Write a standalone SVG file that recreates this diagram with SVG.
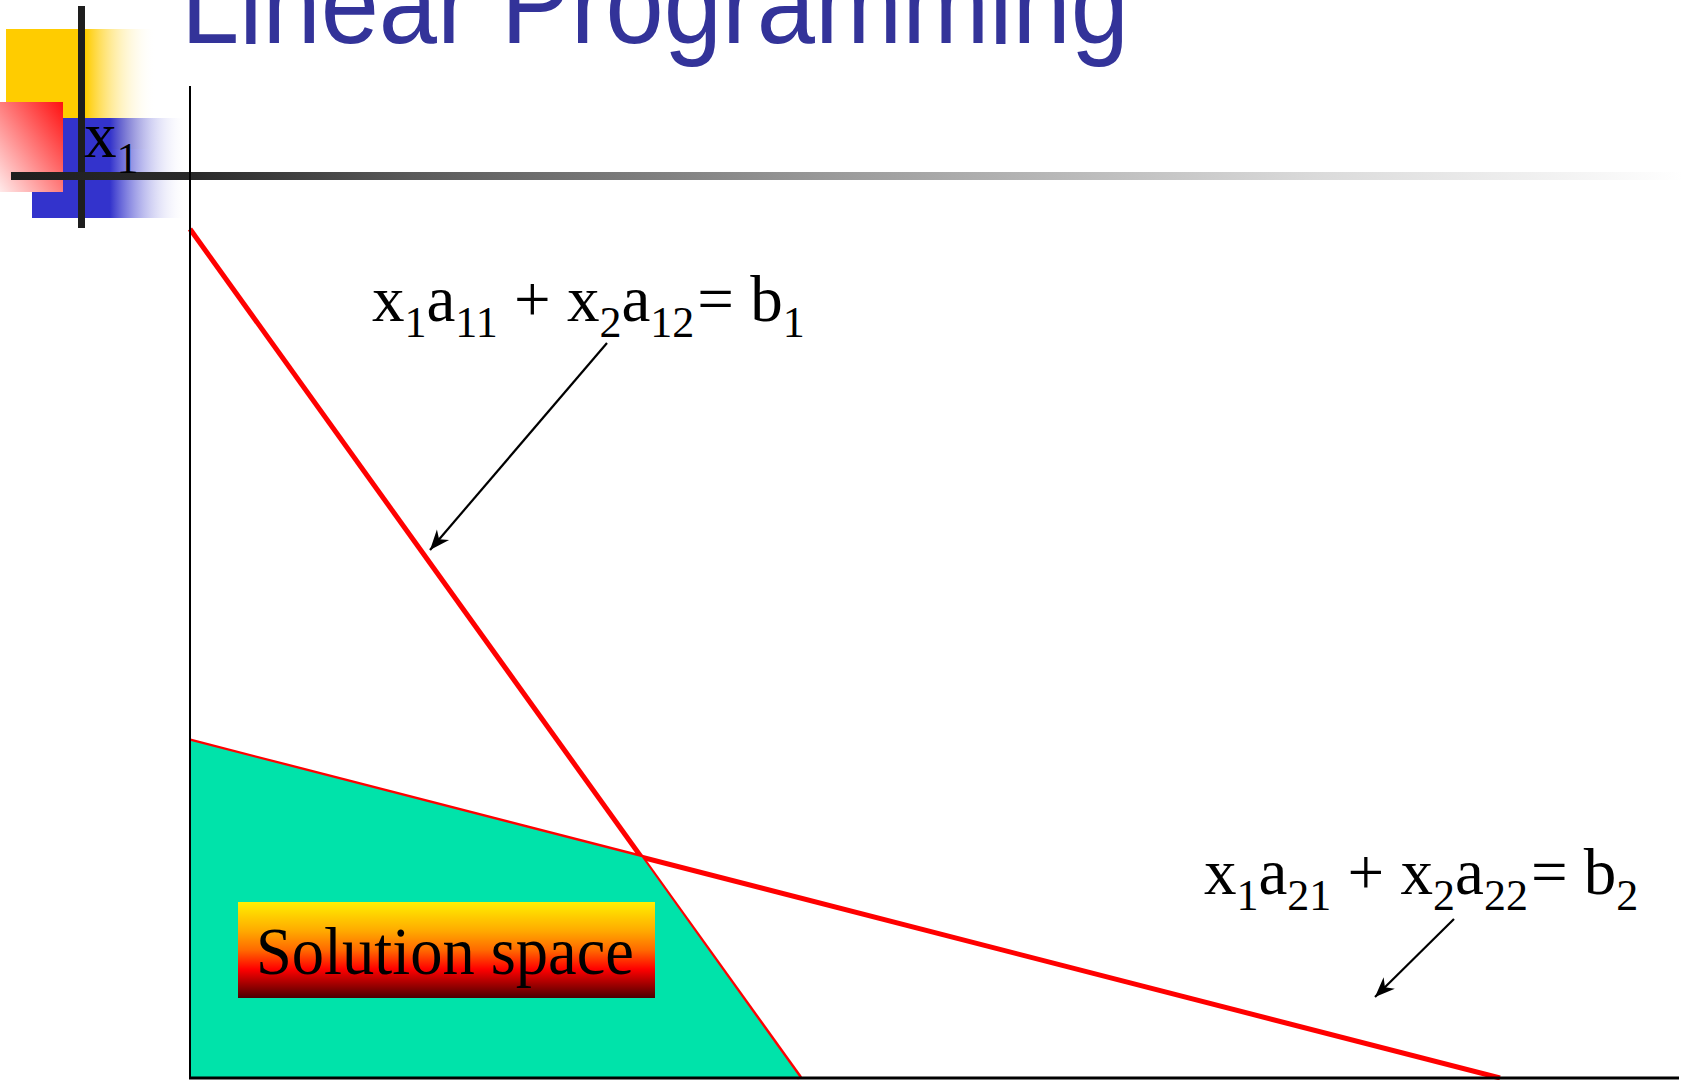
<svg xmlns="http://www.w3.org/2000/svg" width="1683" height="1080" viewBox="0 0 1683 1080">
<defs>
<linearGradient id="gYellow" x1="0" y1="0" x2="1" y2="0">
<stop offset="0" stop-color="#ffcc00"/><stop offset="0.53" stop-color="#ffcc00"/><stop offset="1" stop-color="#ffffff" stop-opacity="0"/>
</linearGradient>
<linearGradient id="gBlue" x1="0" y1="0" x2="1" y2="0">
<stop offset="0" stop-color="#3333cc"/><stop offset="0.5" stop-color="#3333cc"/><stop offset="1" stop-color="#ffffff" stop-opacity="0"/>
</linearGradient>
<linearGradient id="gRed" x1="1" y1="0" x2="0" y2="1">
<stop offset="0" stop-color="#ff1010"/><stop offset="1" stop-color="#ffeaea"/>
</linearGradient>
<linearGradient id="gBar" gradientUnits="userSpaceOnUse" x1="11" y1="0" x2="1683" y2="0">
<stop offset="0" stop-color="#1e1e1e"/><stop offset="0.11" stop-color="#2a2a2a"/><stop offset="0.24" stop-color="#5a5a5a"/><stop offset="0.5" stop-color="#9c9c9c"/><stop offset="0.78" stop-color="#dadada"/><stop offset="1" stop-color="#ffffff"/>
</linearGradient>
<linearGradient id="gBox" x1="0" y1="0" x2="0" y2="1">
<stop offset="0" stop-color="#fff000"/><stop offset="0.3" stop-color="#ffaa00"/><stop offset="0.5" stop-color="#ff6a00"/><stop offset="0.7" stop-color="#ff0000"/><stop offset="1" stop-color="#4a0000"/>
</linearGradient>
<marker id="ah" viewBox="-22 -9 24 18" refX="0" refY="0" markerWidth="24" markerHeight="18" markerUnits="userSpaceOnUse" orient="auto">
<path d="M0,0 L-20,-8 L-14,0 L-20,8 Z" fill="#000"/>
</marker>
<style>
.title{font-family:"Liberation Sans",Arial,sans-serif;fill:#333399;font-size:115px}
.eq{font-family:"Liberation Serif","Times New Roman",serif;fill:#000;font-size:65px}
.sub{font-size:44px}
.lab{font-family:"Liberation Serif","Times New Roman",serif;fill:#000;font-size:67px}
.constraint{stroke:#ff0000;stroke-width:5;fill:none}
.axis{stroke:#000;fill:none}
.pointer{stroke:#000;stroke-width:2.2;fill:none;marker-end:url(#ah)}
</style>
</defs>
<rect width="1683" height="1080" fill="#ffffff"/>
<!-- template decoration -->
<rect x="6" y="29" width="150" height="120" fill="url(#gYellow)"/>
<rect x="32" y="118" width="156" height="100" fill="url(#gBlue)"/>
<rect x="0" y="102" width="63" height="90" fill="url(#gRed)"/>
<rect x="78" y="6" width="7" height="222" fill="#1e1e1e"/>
<rect x="11" y="172" width="1672" height="8" fill="url(#gBar)"/>
<text class="title" x="181" y="43" textLength="948" lengthAdjust="spacingAndGlyphs">Linear Programming</text>
<text class="eq" x="84" y="157" font-size="62">x<tspan class="sub" font-size="41" dy="16">1</tspan></text>

<g id="constraint1"><line class="constraint" x1="190" y1="229" x2="800" y2="1078"/></g>
<g id="constraint2"><line class="constraint" x1="190" y1="741" x2="1500" y2="1078"/></g>
<g id="solution-region"><polygon points="191,741 641.9,857.3 800,1078 191,1078" fill="#00e3aa"/></g>
<g id="axes">
<line class="axis" x1="190" y1="86" x2="190" y2="1079" stroke-width="2"/>
<line class="axis" x1="189" y1="1078" x2="1679" y2="1078" stroke-width="3" stroke="#222"/>
</g>
<g id="solution-label">
<rect x="238" y="902" width="417" height="96" fill="url(#gBox)"/>
<text class="lab" x="256" y="974" textLength="378" lengthAdjust="spacingAndGlyphs">Solution space</text>
</g>
<g id="eq1">
<text class="eq" x="372" y="321">x<tspan class="sub" dy="16">1</tspan><tspan dy="-16">a</tspan><tspan class="sub" dy="16">11</tspan><tspan dy="-16"> + x</tspan><tspan class="sub" dy="16">2</tspan><tspan dy="-16">a</tspan><tspan class="sub" dy="16">12</tspan><tspan dy="-16" dx="3">= b</tspan><tspan class="sub" dy="16">1</tspan></text>
</g>
<g id="eq2">
<text class="eq" x="1204" y="894">x<tspan class="sub" dy="16">1</tspan><tspan dy="-16">a</tspan><tspan class="sub" dy="16">21</tspan><tspan dy="-16"> + x</tspan><tspan class="sub" dy="16">2</tspan><tspan dy="-16">a</tspan><tspan class="sub" dy="16">22</tspan><tspan dy="-16" dx="3">= b</tspan><tspan class="sub" dy="16">2</tspan></text>
</g>
<g id="connectors">
<line class="pointer" x1="607" y1="343" x2="430" y2="550"/>
<line class="pointer" x1="1454" y1="919" x2="1375" y2="997"/>
</g>
</svg>
